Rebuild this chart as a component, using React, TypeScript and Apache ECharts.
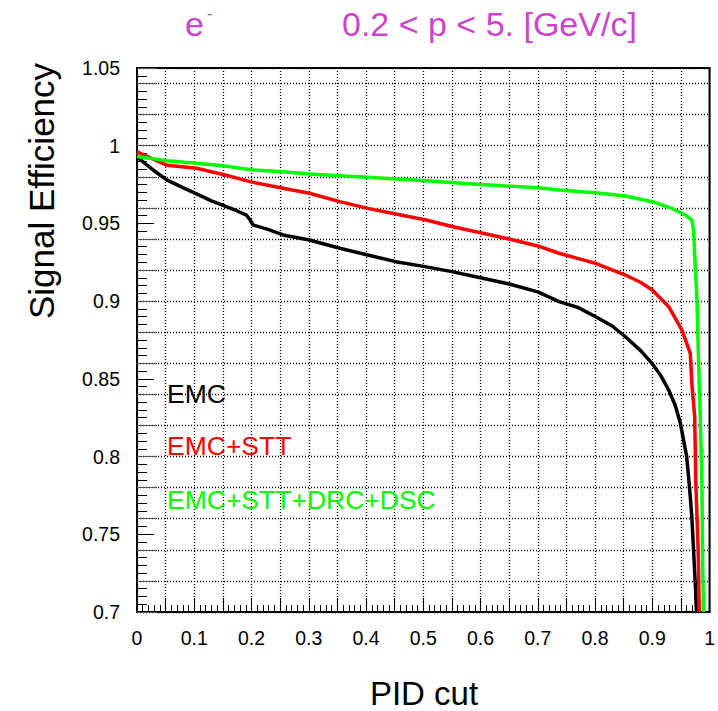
import React, { useEffect, useRef } from "react";
import * as echarts from "echarts";

// ---- data ----
const emcX = [0, 0.017, 0.028, 0.052, 0.08, 0.104, 0.13, 0.156, 0.175, 0.191, 0.197, 0.203, 0.23, 0.255, 0.301, 0.354, 0.403, 0.452, 0.503, 0.55, 0.6, 0.65, 0.7, 0.737, 0.77, 0.801, 0.83, 0.853, 0.88, 0.8995, 0.915, 0.9286, 0.94, 0.949, 0.96, 0.965, 0.969, 0.972, 0.975, 0.977];
const emcY = [0.993, 0.9876, 0.9844, 0.978, 0.973, 0.9690, 0.9645, 0.9608, 0.958, 0.9554, 0.9525, 0.949, 0.946, 0.9426, 0.9393, 0.934, 0.9297, 0.9254, 0.9222, 0.919, 0.915, 0.911, 0.906, 0.8997, 0.896, 0.890, 0.884, 0.8771, 0.868, 0.860, 0.852, 0.8428, 0.833, 0.8214, 0.800, 0.78, 0.7613, 0.74, 0.7185, 0.7];

const sttX = [0, 0.052, 0.104, 0.154, 0.197, 0.255, 0.301, 0.354, 0.403, 0.452, 0.505, 0.55, 0.6, 0.65, 0.7, 0.737, 0.801, 0.853, 0.88, 0.9, 0.9286, 0.9518, 0.9663, 0.969, 0.974, 0.976, 0.98, 0.982];
const sttY = [0.996, 0.9875, 0.9855, 0.9812, 0.9769, 0.9726, 0.9694, 0.964, 0.9597, 0.9561, 0.9522, 0.948, 0.944, 0.940, 0.9355, 0.9308, 0.9243, 0.9168, 0.912, 0.9072, 0.8964, 0.8814, 0.8664, 0.847, 0.8257, 0.7828, 0.740, 0.7];

const allX = [0, 0.052, 0.104, 0.154, 0.203, 0.255, 0.301, 0.354, 0.403, 0.452, 0.505, 0.6, 0.7, 0.737, 0.801, 0.853, 0.9, 0.934, 0.9576, 0.969, 0.972, 0.975, 0.978, 0.981, 0.9838, 0.9866, 0.988, 0.9895];
const allY = [0.993, 0.9904, 0.9887, 0.987, 0.9844, 0.9833, 0.9818, 0.9807, 0.9797, 0.9786, 0.9775, 0.975, 0.973, 0.9715, 0.9698, 0.9676, 0.964, 0.9597, 0.9554, 0.9522, 0.9458, 0.922, 0.9007, 0.8578, 0.8257, 0.7828, 0.729, 0.7];

const seriesNames = ["EMC", "EMC+STT", "EMC+STT+DRC+DSC"];
const seriesColors = ["#000000", "#ff0000", "#00ff00"];
const titleParticle = "e";
const titleRange = "0.2 < p < 5. [GeV/c]";
const xTitle = "PID cut";
const yTitle = "Signal Efficiency";

const FONT = "'Liberation Sans', Arial, Helvetica, sans-serif";
const MAGENTA = "#cc44cc";

function zip(xs: number[], ys: number[]) {
  return xs.map((x, i) => [x, ys[i]]);
}

export default function App() {
  const ref = useRef<HTMLDivElement>(null);
  useEffect(() => {
    if (!ref.current) return;
    const chart = echarts.init(ref.current, undefined, { renderer: "svg" });
    const dotted = { type: [1, 2] as any, color: "#000", width: 1.3 };
    const option: any = {
      animation: false,
      backgroundColor: "#ffffff",
      grid: {
        left: 137,
        top: 68,
        width: 574,
        height: 544,
        show: true,
        borderColor: "#000",
        borderWidth: 2,
        backgroundColor: "transparent",
      },
      xAxis: [
        {
          type: "value",
          min: 0,
          max: 1,
          interval: 0.05,
          axisLine: { show: true, lineStyle: { color: "#000", width: 2 } },
          axisTick: { show: true, inside: true, length: 14, lineStyle: { color: "#000", width: 1 } },
          minorTick: { show: true, splitNumber: 5, length: 7, lineStyle: { color: "#000", width: 1 } },
          splitLine: { show: true, lineStyle: dotted },
          axisLabel: {
            color: "#000",
            fontSize: 19.5,
            fontFamily: FONT,
            margin: 16,
            formatter: (v: number) => {
              const k = Math.round(v * 100);
              if (k % 10 !== 0) return "";
              return String(Math.round(v * 10) / 10);
            },
          },
        },
      ],
      yAxis: [
        {
          type: "value",
          min: 0.7,
          max: 1.05,
          interval: 0.05,
          axisLine: { show: true, lineStyle: { color: "#000", width: 2 } },
          axisTick: { show: true, inside: true, length: 17, lineStyle: { color: "#000", width: 1 } },
          minorTick: { show: true, splitNumber: 10, length: 10, lineStyle: { color: "#000", width: 1 } },
          splitLine: { show: false },
          axisLabel: {
            color: "#000",
            fontSize: 19.5,
            fontFamily: FONT,
            margin: 17,
            formatter: (v: number) => String(Math.round(v * 100) / 100),
          },
        },
        {
          type: "value",
          min: 0.7,
          max: 1.05,
          interval: 0.02,
          position: "left",
          axisLine: { show: false },
          axisTick: { show: true, inside: true, length: 20, lineStyle: { color: "#555", width: 1 } },
          axisLabel: { show: false },
          splitLine: { show: true, lineStyle: dotted },
        },
      ],
      series: [
        { x: emcX, y: emcY },
        { x: sttX, y: sttY },
        { x: allX, y: allY },
      ].map((s, i) => ({
        name: seriesNames[i],
        type: "line",
        xAxisIndex: 0,
        yAxisIndex: 0,
        data: zip(s.x, s.y),
        showSymbol: false,
        symbol: "none",
        clip: true,
        lineStyle: { color: seriesColors[i], width: 3.5 },
        itemStyle: { color: seriesColors[i] },
        z: 3 + i,
      })),
      graphic: [
        {
          type: "text",
          x: 185,
          y: 24,
          style: { text: titleParticle, fill: MAGENTA, fontSize: 34, fontFamily: FONT, verticalAlign: "middle", align: "left" },
        },
        {
          type: "text",
          x: 207,
          y: 13,
          style: { text: "-", fill: MAGENTA, fontSize: 17, fontFamily: FONT, verticalAlign: "middle", align: "left" },
        },
        {
          type: "text",
          x: 342,
          y: 24,
          style: { text: titleRange, fill: MAGENTA, fontSize: 34, fontFamily: FONT, verticalAlign: "middle", align: "left" },
        },
        {
          type: "text",
          x: 424,
          y: 693,
          style: { text: xTitle, fill: "#000", fontSize: 33, fontFamily: FONT, verticalAlign: "middle", align: "center" },
        },
        {
          type: "text",
          x: 41,
          y: 191,
          rotation: Math.PI / 2,
          style: { text: yTitle, fill: "#000", fontSize: 35, fontFamily: FONT, verticalAlign: "middle", align: "center" },
        },
        ...seriesNames.map((n, i) => ({
          type: "text",
          x: 167,
          y: [394, 446, 500][i],
          z: 10,
          style: { text: n, fill: seriesColors[i], fontSize: 26.5, fontFamily: FONT, verticalAlign: "middle", align: "left" },
        })),
      ],
    };
    chart.setOption(option);
    return () => chart.dispose();
  }, []);
  return (
    <div
      ref={ref}
      style={{ position: "fixed", left: 0, top: 0, width: 718, height: 711, background: "#fff" }}
    />
  );
}
